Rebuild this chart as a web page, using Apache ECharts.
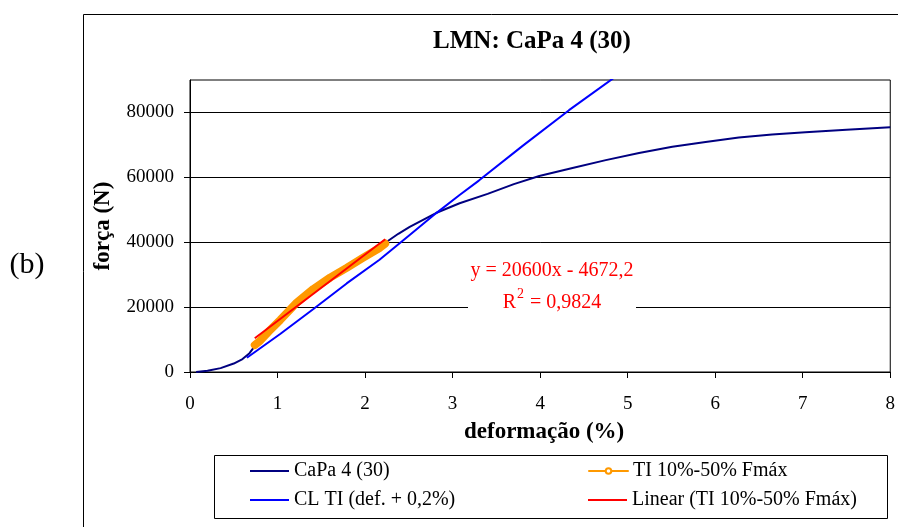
<!DOCTYPE html>
<html><head><meta charset="utf-8">
<script src="https://cdn.jsdelivr.net/npm/echarts@6/dist/echarts.min.js"></script>
<style>html,body{margin:0;padding:0;background:#fff}#c{width:898px;height:527px}</style>
</head><body><div id="c"></div>
<script>
const chartTitle = 'LMN: CaPa 4 (30)';
const panelLabel = '(b)';
const xAxisTitle = 'deformação (%)';
const yAxisTitle = 'força (N)';
const xTicks = [0, 1, 2, 3, 4, 5, 6, 7, 8];
const yTicks = [0, 20000, 40000, 60000, 80000];
const seriesNames = ['CaPa 4 (30)', 'CL TI (def. + 0,2%)', 'TI 10%-50% Fmáx', 'Linear (TI 10%-50% Fmáx)'];

const capaCurve = [
  [0.07, 0], [0.2, 400], [0.35, 1200], [0.5, 2600], [0.6, 4000], [0.68, 5800], [0.74, 8000],
  [0.8, 9400], [0.9, 12400], [1.03, 16000], [1.22, 21400], [1.41, 25700], [1.6, 29100],
  [1.79, 32100], [1.97, 35100], [2.17, 38300], [2.24, 40000], [2.38, 42600], [2.51, 44700], [2.81, 49000],
  [3.08, 52000], [3.4, 54900], [3.7, 57900], [3.99, 60400], [4.37, 62900], [4.75, 65300],
  [5.13, 67500], [5.51, 69400], [5.89, 70900], [6.27, 72300], [6.65, 73200], [7.03, 73900],
  [7.5, 74700], [8.0, 75400]
];
const clTiLine = [
  [0.65, 4400], [1.03, 11700], [1.41, 19400], [1.79, 27300], [2.165, 34600], [2.51, 42250],
  [2.81, 48900], [3.08, 54550], [3.3, 59000], [3.8, 69700], [4.33, 80700], [4.86, 91000]
];
const tiSegment = [
  [0.74, 8300], [0.8, 9600], [0.9, 12500], [1.03, 16000], [1.22, 21400], [1.41, 25600],
  [1.6, 29100], [1.79, 32100], [1.97, 35100], [2.17, 38300], [2.23, 39600]
];
const linearTrend = [[0.74, 10400], [2.23, 40900]];
const trendEquation = 'y = 20600x - 4672,2';
const trendR2Parts = ['R', '2', ' = 0,9824'];

const FONT = '"Liberation Serif", "Times New Roman", serif';
const chart = echarts.init(document.getElementById('c'), null, { renderer: 'canvas' });

function legendAt(name, left, top, itemHeight, extra) {
  const item = Object.assign({ name: name }, extra || {});
  return {
    data: [item], left: left, top: top, orient: 'vertical', padding: 0,
    itemWidth: 39, itemHeight: itemHeight, itemGap: 0, selectedMode: false,
    textStyle: { color: '#000', fontFamily: FONT, fontSize: 20 }
  };
}

chart.setOption({
  animation: false,
  backgroundColor: '#fff',
  grid: { left: 190, top: 80, right: 6, bottom: 155, show: true, borderColor: '#000', borderWidth: 1 },
  xAxis: {
    type: 'value', min: 0, max: 8, interval: 1,
    axisLine: { lineStyle: { color: '#000', width: 1 } },
    axisTick: { length: 6, lineStyle: { color: '#000' } },
    axisLabel: { margin: 23, color: '#000', fontFamily: FONT, fontSize: 19, customValues: xTicks },
    splitLine: { show: false },
    name: xAxisTitle, nameLocation: 'middle', nameGap: 49,
    nameTextStyle: { color: '#000', fontFamily: FONT, fontSize: 23, fontWeight: 'bold', padding: [0, 0, 0, 8] }
  },
  yAxis: {
    type: 'value', min: 0, max: 90000, interval: 20000,
    axisLine: { show: true, lineStyle: { color: '#000', width: 1 } },
    axisTick: { show: true, length: 6, lineStyle: { color: '#000' }, customValues: yTicks },
    axisLabel: { margin: 16, color: '#000', fontFamily: FONT, fontSize: 19, customValues: yTicks,
      formatter: v => String(v) },
    splitLine: { show: true, lineStyle: { color: '#000', width: 1 } },
    name: yAxisTitle, nameLocation: 'middle', nameRotate: 90, nameGap: 75,
    nameTextStyle: { color: '#000', fontFamily: FONT, fontSize: 23, fontWeight: 'bold' }
  },
  legend: [
    legendAt(seriesNames[0], 250, 461, 2, { icon: 'rect' }),
    legendAt(seriesNames[1], 250, 490, 2, { icon: 'rect' }),
    legendAt(seriesNames[2], 588, 461, 7, { lineStyle: { width: 2 } }),
    legendAt(seriesNames[3], 588, 490, 2, { icon: 'rect' })
  ],
  series: [
    { name: seriesNames[0], type: 'line', data: capaCurve, symbol: 'none', clip: true,
      lineStyle: { color: '#000080', width: 2 }, itemStyle: { color: '#000080' }, z: 2 },
    { name: seriesNames[1], type: 'line', data: clTiLine, symbol: 'none', clip: true,
      lineStyle: { color: '#0000FF', width: 2 }, itemStyle: { color: '#0000FF' }, z: 2 },
    { name: seriesNames[2], type: 'line', data: tiSegment, symbol: 'emptyCircle', showSymbol: false, clip: true,
      lineStyle: { color: '#FF9900', width: 8, cap: 'round', join: 'round' }, itemStyle: { color: '#FF9900' }, z: 3 },
    { name: seriesNames[3], type: 'line', data: linearTrend, symbol: 'none', clip: true,
      lineStyle: { color: '#FF0000', width: 2 }, itemStyle: { color: '#FF0000' }, z: 4 }
  ],
  graphic: [
    { type: 'rect', shape: { x: 83.5, y: 14.5, width: 900, height: 600 },
      style: { fill: 'none', stroke: '#000', lineWidth: 1 }, z: 0, silent: true },
    { type: 'text', x: 27, y: 265, silent: true,
      style: { text: panelLabel, font: '30px ' + FONT, fill: '#000', align: 'center', verticalAlign: 'middle', textAlign: 'center', textVerticalAlign: 'middle' } },
    { type: 'text', x: 532, y: 42, silent: true,
      style: { text: chartTitle, font: 'bold 25px ' + FONT, fill: '#000', align: 'center', verticalAlign: 'middle', textAlign: 'center', textVerticalAlign: 'middle' } },
    { type: 'rect', shape: { x: 468, y: 255, width: 168, height: 62 }, style: { fill: '#fff', stroke: 'none' }, z: 10, silent: true },
    { type: 'text', x: 552, y: 271, z: 11, silent: true,
      style: { text: trendEquation, font: '20px ' + FONT, fill: '#FF0000', align: 'center', verticalAlign: 'middle', textAlign: 'center', textVerticalAlign: 'middle' } },
    { type: 'text', x: 552, y: 300, z: 11, silent: true,
      style: { text: '{r|' + trendR2Parts[0] + '}{s|' + trendR2Parts[1] + '}{r|' + trendR2Parts[2] + '}',
        align: 'center', verticalAlign: 'middle', textAlign: 'center', textVerticalAlign: 'middle',
        rich: {
          r: { fontFamily: FONT, fontSize: 20, fill: '#FF0000', color: '#FF0000', lineHeight: 25, verticalAlign: 'bottom' },
          s: { fontFamily: FONT, fontSize: 14, fill: '#FF0000', color: '#FF0000', lineHeight: 25, verticalAlign: 'top', padding: [0, 1, 0, 1] }
        } } },
    { type: 'rect', shape: { x: 214.5, y: 455.5, width: 673, height: 63 },
      style: { fill: 'none', stroke: '#000', lineWidth: 1 }, z: 0, silent: true }
  ]
});
</script>
</body></html>
